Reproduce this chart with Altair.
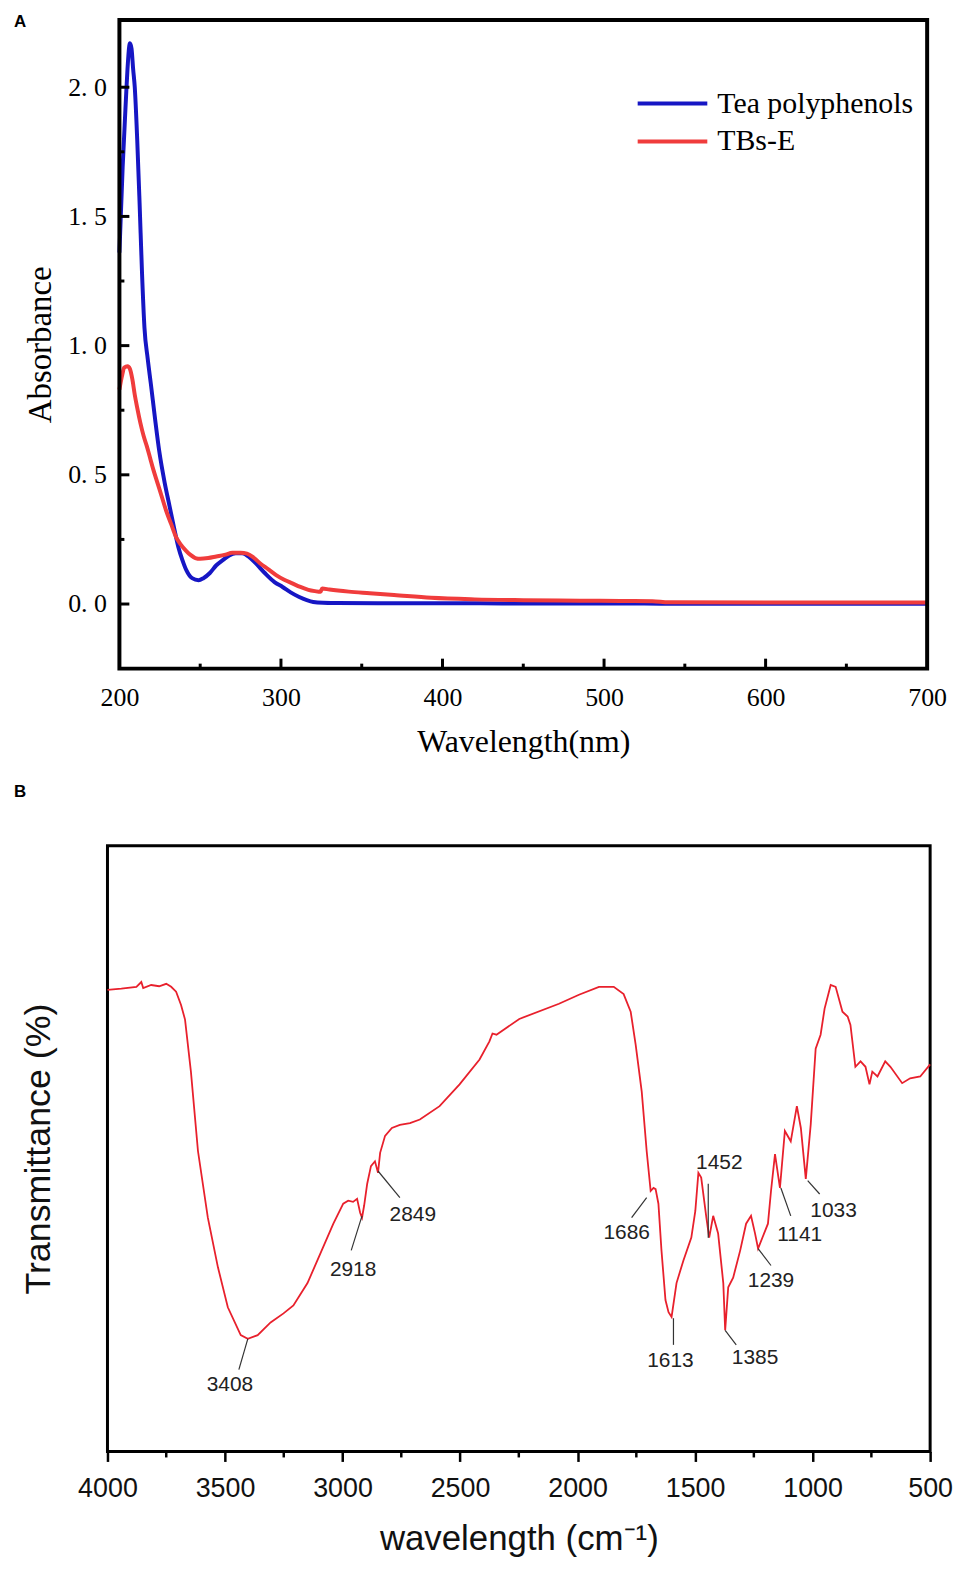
import altair as alt
import pandas as pd

# ---------------- Panel A : UV-Vis absorbance ----------------
series_names = ["Tea polyphenols", "TBs-E"]
series_colors = ["#1616c4", "#f03c3c"]

blue_wl = [200, 202, 204, 205, 206.5, 207.5, 208.5, 209.5, 211, 212.5, 214, 215.5,
           217.5, 219.5, 222, 224.7, 228, 231, 234, 236.5, 239, 241.5, 245, 249,
           252, 256, 260, 264, 268, 272, 276, 280, 284, 290, 296, 301, 306, 311,
           316, 320, 326, 335, 360, 400, 450, 500, 550, 600, 650, 700]
blue_abs = [1.36, 1.69, 1.95, 2.07, 2.17, 2.15, 2.07, 2.00, 1.80, 1.55, 1.28, 1.07,
            0.95, 0.85, 0.72, 0.59, 0.47, 0.38, 0.29, 0.22, 0.17, 0.13, 0.10, 0.092,
            0.10, 0.12, 0.15, 0.17, 0.188, 0.196, 0.196, 0.183, 0.16, 0.12, 0.085, 0.066,
            0.045, 0.028, 0.015, 0.008, 0.005, 0.004, 0.003, 0.003, 0.002, 0.002,
            0.001, 0.001, 0.001, 0.001]

red_wl = [200, 201.5, 203, 205, 206.5, 208, 209.5, 211, 213, 215, 217, 219, 221,
          223.5, 226, 229, 232, 235, 238, 241, 244, 247, 250, 255, 260, 265, 270,
          275, 279, 283, 287, 292, 297, 302, 307, 312, 317, 321, 324.5, 325.5, 330,
          342, 355, 370, 393, 420, 450, 485, 510, 530, 540, 600, 650, 700]
red_abs = [0.83, 0.88, 0.915, 0.92, 0.91, 0.87, 0.81, 0.76, 0.70, 0.65, 0.61, 0.565,
           0.52, 0.47, 0.42, 0.36, 0.31, 0.26, 0.23, 0.208, 0.19, 0.178, 0.175, 0.178,
           0.184, 0.19, 0.198, 0.198, 0.195, 0.18, 0.158, 0.135, 0.112, 0.094, 0.08,
           0.066, 0.055, 0.05, 0.047, 0.06, 0.056, 0.048, 0.042, 0.035, 0.024, 0.018,
           0.015, 0.013, 0.012, 0.011, 0.007, 0.006, 0.006, 0.006]

a_x_major = [200, 300, 400, 500, 600, 700]
a_x_minor = [250, 350, 450, 550, 650]
a_y_major = [0.0, 0.5, 1.0, 1.5, 2.0]
a_y_minor = [0.25, 0.75, 1.25, 1.75]

# ---------------- Panel B : FT-IR transmittance ----------------
ir_wn = [4000, 3941, 3877, 3856, 3848, 3814, 3780, 3750, 3729, 3708, 3687, 3670,
         3645, 3615, 3573, 3530, 3488, 3433, 3403, 3361, 3306, 3251, 3209, 3149,
         3094, 3039, 2997, 2976, 2955, 2938, 2925, 2917, 2908, 2895, 2879, 2862,
         2849, 2840, 2819, 2790, 2756, 2713, 2671, 2587, 2502, 2417, 2375, 2362,
         2345, 2248, 2079, 1994, 1909, 1846, 1804, 1774, 1753, 1727, 1706, 1689,
         1677, 1668, 1656, 1643, 1626, 1613, 1600, 1579, 1550, 1516, 1499, 1486,
         1474, 1452, 1440, 1423, 1402, 1380, 1372, 1359, 1338, 1308, 1283, 1262,
         1245, 1232, 1190, 1177, 1160, 1139, 1118, 1093, 1067, 1050, 1029, 1008,
         987, 966, 949, 923, 902, 873, 851, 839, 818, 796, 775, 758, 746, 724,
         691, 669, 619, 585, 542, 500]
ir_t = [76.2, 76.4, 76.7, 77.5, 76.5, 77.0, 76.8, 77.2, 76.7, 75.9, 73.7, 71.3,
        62.7, 49.6, 38.6, 30.4, 23.8, 19.2, 18.6, 19.2, 21.3, 22.8, 24.1, 27.8,
        32.7, 37.6, 40.9, 41.4, 41.2, 41.7, 39.4, 38.6, 40.6, 44.2, 47.1, 47.9,
        46.0, 49.3, 52.1, 53.4, 53.9, 54.2, 54.8, 57.0, 60.6, 64.7, 67.7, 69.0,
        68.8, 71.4, 73.9, 75.4, 76.7, 76.7, 75.5, 72.6, 67.2, 59.4, 49.6, 43.0,
        43.5, 43.3, 40.9, 33.2, 25.0, 23.0, 22.2, 27.8, 31.5, 35.3, 39.7, 46.0,
        45.2, 38.6, 35.3, 38.9, 36.0, 27.8, 20.0, 27.1, 28.7, 33.2, 37.6, 38.9,
        36.0, 33.5, 37.6, 43.0, 49.1, 43.5, 52.9, 51.2, 57.0, 53.4, 45.0, 54.0,
        66.5, 68.8, 73.1, 77.0, 76.7, 72.6, 71.8, 70.4, 63.5, 64.4, 63.5, 60.6,
        62.7, 61.9, 64.4, 63.5, 60.8, 61.6, 61.9, 63.9]

peak_labels = ["3408", "2918", "2849", "1686", "1613", "1452", "1385", "1239", "1141", "1033"]
lead_x1 = [3403, 2917, 2849, 1706, 1592, 1444, 1372, 1232, 1135, 1021]
lead_y1 = [18.6, 38.9, 46.3, 41.9, 22.0, 44.2, 20.0, 33.5, 43.5, 44.7]
lead_x2 = [3441, 2963, 2756, 1770, 1592, 1444, 1325, 1177, 1093, 970]
lead_y2 = [13.5, 33.2, 41.9, 38.6, 17.6, 35.3, 17.6, 30.7, 38.9, 42.5]
text_x = [3479, 2955, 2701, 1791, 1605, 1397, 1245, 1177, 1055, 911]
text_y = [11.0, 29.9, 39.1, 36.0, 14.9, 47.6, 15.4, 28.1, 35.8, 39.7]

b_x_major = [4000, 3500, 3000, 2500, 2000, 1500, 1000, 500]
b_x_minor = [3750, 3250, 2750, 2250, 1750, 1250, 750]

# ---------------- build ----------------
SERIF = "Liberation Serif"
SANS = "Liberation Sans"
AOFF = 12            # panel A frame starts 12px right of panel B's
AW, AH = 824, 652
BW, BH = 827, 609

# ---- panel A ----
dfA = pd.DataFrame({
    "wl": blue_wl + red_wl,
    "abs": blue_abs + red_abs,
    "series": [series_names[0]] * len(blue_wl) + [series_names[1]] * len(red_wl),
})
xA = alt.Scale(domain=[200, 700], range=[AOFF, AW], nice=False, zero=False)
yA = alt.Scale(domain=[-0.25, 2.26], nice=False, zero=False)
axXA = alt.Axis(values=a_x_major, title="Wavelength(nm)", ticks=False, domain=False,
                grid=False, labelFont=SERIF, labelFontSize=26, labelColor="black",
                labelPadding=16, labelFlush=False, labelOverlap=False, format="d",
                titleFont=SERIF, titleFontSize=32, titleFontWeight="normal",
                titleColor="black", titlePadding=16)
axYA = alt.Axis(values=a_y_major, title="Absorbance", ticks=False, domain=False,
                grid=False, labelExpr="replace(format(datum.value, '.1f'), '.', '. ')",
                labelFont=SERIF, labelFontSize=26, labelColor="black", labelPadding=1,
                labelFlush=False, labelOverlap=False,
                titleFont=SERIF, titleFontSize=33, titleFontWeight="normal",
                titleColor="black", titlePadding=10)

linesA = alt.Chart(dfA).mark_line(strokeWidth=4, interpolate="monotone", clip=True).encode(
    x=alt.X("wl:Q", scale=xA, axis=axXA),
    y=alt.Y("abs:Q", scale=yA, axis=axYA),
    color=alt.Color("series:N", scale=alt.Scale(domain=series_names, range=series_colors),
                    legend=alt.Legend(orient="none", legendX=531, legendY=65, title=None,
                                      symbolType="stroke", symbolSize=4900,
                                      symbolStrokeWidth=4, labelFont=SERIF,
                                      labelFontSize=30, labelColor="black",
                                      labelOffset=8, padding=0, rowPadding=0,
                                      clipHeight=38, labelLimit=0)),
)

xTickMajA = alt.Chart(pd.DataFrame({"wl": a_x_major[1:-1]})).mark_rule(color="black", strokeWidth=3).encode(
    x=alt.X("wl:Q", scale=xA, axis=axXA), y=alt.value(AH), y2=alt.value(AH - 10))
xTickMinA = alt.Chart(pd.DataFrame({"wl": a_x_minor})).mark_rule(color="black", strokeWidth=3).encode(
    x=alt.X("wl:Q", scale=xA, axis=axXA), y=alt.value(AH), y2=alt.value(AH - 5))
yTickMajA = alt.Chart(pd.DataFrame({"abs": a_y_major})).mark_rule(color="black", strokeWidth=3).encode(
    y=alt.Y("abs:Q", scale=yA, axis=axYA), x=alt.value(AOFF), x2=alt.value(AOFF + 10))
yTickMinA = alt.Chart(pd.DataFrame({"abs": a_y_minor})).mark_rule(color="black", strokeWidth=3).encode(
    y=alt.Y("abs:Q", scale=yA, axis=axYA), x=alt.value(AOFF), x2=alt.value(AOFF + 5))
frameA = alt.Chart(pd.DataFrame({"f": [0]})).mark_rect(
    filled=False, stroke="black", strokeWidth=4).encode(
    x=alt.value(AOFF), x2=alt.value(AW), y=alt.value(0), y2=alt.value(AH))
labelA = alt.Chart(pd.DataFrame({"t": ["A"]})).mark_text(
    align="left", baseline="top", font=SANS, fontSize=17, fontWeight="bold", color="black"
).encode(text="t:N", x=alt.value(-94), y=alt.value(-6))

panelA = alt.layer(linesA, xTickMajA, xTickMinA, yTickMajA, yTickMinA, frameA, labelA).properties(
    width=AW, height=AH, view=alt.ViewBackground(stroke="transparent"))

# ---- panel B ----
dfB = pd.DataFrame({"wn": ir_wn, "t": ir_t})
xB = alt.Scale(domain=[500, 4000], reverse=True, nice=False, zero=False)
yB = alt.Scale(domain=[0, 100], nice=False, zero=False)
axXB = alt.Axis(values=b_x_major, title="wavelength (cm⁻¹)", domain=False, grid=False,
                ticks=True, tickSize=10, tickWidth=2.5, tickColor="black",
                labelFont=SANS, labelFontSize=27, labelColor="#111", labelPadding=14,
                labelFlush=False, labelOverlap=False, format="d",
                titleFont=SANS, titleFontSize=35, titleFontWeight="normal",
                titleColor="#111", titlePadding=21)
axYB = alt.Axis(title="Transmittance (%)", labels=False, ticks=False, domain=False,
                grid=False, titleFont=SANS, titleFontSize=36, titleFontWeight="normal",
                titleColor="#111", titlePadding=50)

lineB = alt.Chart(dfB).mark_line(color="#e8202c", strokeWidth=1.8).encode(
    x=alt.X("wn:Q", scale=xB, axis=axXB),
    y=alt.Y("t:Q", scale=yB, axis=axYB),
)
xTickMinB = alt.Chart(pd.DataFrame({"wn": b_x_minor})).mark_rule(color="black", strokeWidth=2.5).encode(
    x=alt.X("wn:Q", scale=xB, axis=axXB), y=alt.value(BH), y2=alt.value(BH + 6))

dfAnn = pd.DataFrame({"label": peak_labels, "x1": lead_x1, "y1": lead_y1,
                      "x2": lead_x2, "y2": lead_y2, "tx": text_x, "ty": text_y})
leaders = alt.Chart(dfAnn).mark_rule(color="#333", strokeWidth=1.2).encode(
    x=alt.X("x1:Q", scale=xB, axis=axXB), y=alt.Y("y1:Q", scale=yB, axis=axYB),
    x2="x2:Q", y2="y2:Q")
annText = alt.Chart(dfAnn).mark_text(font=SANS, fontSize=21, color="#222",
                                     align="center", baseline="middle").encode(
    x=alt.X("tx:Q", scale=xB, axis=axXB), y=alt.Y("ty:Q", scale=yB, axis=axYB),
    text="label:N")
labelB = alt.Chart(pd.DataFrame({"t": ["B"]})).mark_text(
    align="left", baseline="top", font=SANS, fontSize=17, fontWeight="bold", color="black"
).encode(text="t:N", x=alt.value(-94), y=alt.value(-62))

panelB = alt.layer(lineB, xTickMinB, leaders, annText, labelB).properties(
    width=BW, height=BH, view=alt.ViewBackground(stroke="black", strokeWidth=3))

chart = alt.vconcat(panelA, panelB, spacing=23).properties(
    padding={"left": 4, "top": 0, "right": 0, "bottom": 0},
    background="white",
)

chart.save("out.html", embed_options={"renderer": "svg", "actions": False})
